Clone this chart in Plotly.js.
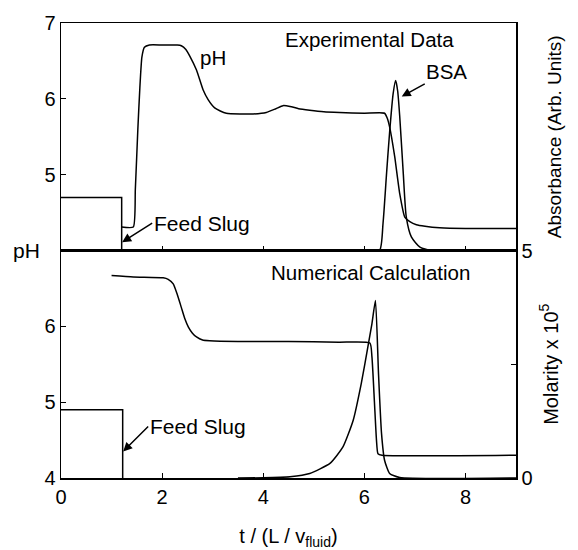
<!DOCTYPE html>
<html>
<head>
<meta charset="utf-8">
<script src="https://cdn.plot.ly/plotly-3.0.1.min.js"></script>
<style>html,body{margin:0;padding:0;background:#fff;}#chart{width:578px;height:550px;}</style>
</head>
<body>
<div id="chart"></div>
<script>
// Feed slug (top panel, experimental)
const slugTopX = [0, 1.2, 1.2];
const slugTopY = [4.7, 4.7, 4.0];
// Experimental pH
const phExpX = [1.2, 1.43, 1.47, 1.52, 1.56, 1.60, 1.65, 1.75, 2.0, 2.3, 2.38, 2.47, 2.55, 2.68, 2.81, 2.91, 3.04, 3.15, 3.27, 3.54, 3.8, 4.06, 4.25, 4.39, 4.53, 4.7, 4.92, 5.2, 5.51, 6.0, 6.40, 6.45, 6.50, 6.60, 6.70, 6.80, 6.90, 7.03, 7.2, 7.49, 8.0, 9.0];
const phExpY = [4.31, 4.31, 4.8, 5.6, 6.15, 6.55, 6.68, 6.71, 6.71, 6.71, 6.70, 6.65, 6.56, 6.38, 6.12, 5.99, 5.88, 5.84, 5.81, 5.80, 5.80, 5.82, 5.87, 5.91, 5.90, 5.87, 5.85, 5.83, 5.82, 5.81, 5.81, 5.75, 5.63, 5.24, 4.75, 4.44, 4.38, 4.34, 4.32, 4.30, 4.29, 4.29];
// Experimental BSA absorbance (arb. units)
const bsaExpX = [6.0, 6.30, 6.37, 6.44, 6.50, 6.57, 6.62, 6.66, 6.70, 6.77, 6.83, 6.93, 7.10, 7.35, 9.0];
const bsaExpY = [0, 0, 0.12, 0.34, 0.52, 0.69, 0.747, 0.70, 0.59, 0.34, 0.147, 0.06, 0.015, 0, 0];
// Feed slug (bottom panel, numerical)
const slugBotX = [0, 1.22, 1.22];
const slugBotY = [4.9, 4.9, 4.0];
// Numerical pH
const phNumX = [1.0, 1.43, 2.02, 2.12, 2.22, 2.30, 2.38, 2.45, 2.52, 2.60, 2.68, 2.80, 2.94, 3.5, 4.5, 5.5, 6.11, 6.15, 6.20, 6.24, 6.27, 6.35, 9.0];
const phNumY = [6.67, 6.65, 6.64, 6.62, 6.56, 6.42, 6.25, 6.10, 5.99, 5.91, 5.86, 5.82, 5.81, 5.80, 5.80, 5.79, 5.78, 5.60, 5.00, 4.50, 4.32, 4.30, 4.30];
// Numerical BSA molarity x 1e5
const bsaNumX = [3.5, 4.0, 4.53, 4.92, 5.32, 5.58, 5.78, 5.94, 6.07, 6.15, 6.22, 6.28, 6.34, 6.40, 6.50, 6.70, 9.0];
const bsaNumY = [0, 0.005, 0.03, 0.10, 0.32, 0.69, 1.27, 2.08, 2.88, 3.39, 3.90, 2.30, 0.98, 0.39, 0.10, 0.01, 0];

const xTicks = [0, 2, 4, 6, 8];

const ln = {color: '#000', width: 1.5};
const traces = [
  {x: slugTopX, y: slugTopY, xaxis: 'x2', yaxis: 'y2', mode: 'lines', line: ln},
  {x: phExpX, y: phExpY, xaxis: 'x2', yaxis: 'y2', mode: 'lines', line: Object.assign({shape: 'spline', smoothing: 0.5}, ln)},
  {x: bsaExpX, y: bsaExpY, xaxis: 'x2', yaxis: 'y4', mode: 'lines', line: Object.assign({shape: 'spline', smoothing: 0.6}, ln)},
  {x: slugBotX, y: slugBotY, xaxis: 'x', yaxis: 'y', mode: 'lines', line: ln},
  {x: phNumX, y: phNumY, xaxis: 'x', yaxis: 'y', mode: 'lines', line: Object.assign({shape: 'spline', smoothing: 0.5}, ln)},
  {x: bsaNumX, y: bsaNumY, xaxis: 'x', yaxis: 'y3', mode: 'lines', line: Object.assign({shape: 'spline', smoothing: 0.5}, ln)}
];

const F = 'Liberation Sans, Arial, Helvetica, sans-serif';
const axBase = {showline: true, linecolor: '#000', linewidth: 1.5, ticks: 'inside', ticklen: 5, tickwidth: 1.2, tickcolor: '#000', showgrid: false, zeroline: false, automargin: false, tickfont: {family: F, size: 20, color: '#000'}};
const arr = {showarrow: true, arrowhead: 2, arrowsize: 1.2, arrowwidth: 1.5, arrowcolor: '#000'};

const layout = {
  width: 578, height: 550,
  margin: {l: 61, r: 62, t: 23, b: 72},
  paper_bgcolor: '#fff', plot_bgcolor: '#fff',
  showlegend: false,
  font: {family: F, color: '#000'},
  xaxis: Object.assign({}, axBase, {domain: [0, 1], anchor: 'y', range: [0, 9], tickvals: xTicks, mirror: true,
    title: {text: 't / (L / v<sub>fluid</sub>)', font: {family: F, size: 20, color: '#000'}, standoff: 22}}),
  xaxis2: Object.assign({}, axBase, {domain: [0, 1], anchor: 'y2', range: [0, 9], tickvals: xTicks, showticklabels: false, mirror: true}),
  yaxis: Object.assign({}, axBase, {domain: [0, 0.5], anchor: 'x', range: [4, 7], tickvals: [4, 5, 6], mirror: true}),
  yaxis2: Object.assign({}, axBase, {domain: [0.5, 1], anchor: 'x2', range: [4, 7], tickvals: [5, 6, 7], mirror: true}),
  yaxis3: Object.assign({}, axBase, {overlaying: 'y', side: 'right', anchor: 'x', range: [0, 5], tickmode: 'linear', tick0: 0, dtick: 5,
    minor: {dtick: 2.5, tick0: 0, ticks: 'inside', ticklen: 5, tickwidth: 1.2, tickcolor: '#000', showgrid: false},
    title: {text: 'Molarity x 10<sup>5</sup>', font: {family: F, size: 20, color: '#000'}, standoff: 12}}),
  yaxis4: Object.assign({}, axBase, {overlaying: 'y2', side: 'right', anchor: 'x2', range: [0, 1], ticks: '', showticklabels: false,
    title: {text: 'Absorbance (Arb. Units)', font: {family: F, size: 19, color: '#000'}, standoff: 31}}),
  annotations: [
    {xref: 'x2', yref: 'y2', x: 3.01, y: 6.55, text: 'pH', showarrow: false, font: {size: 20.5}},
    {xref: 'x2', yref: 'y2', x: 6.11, y: 6.78, text: 'Experimental Data', showarrow: false, font: {size: 20.5}},
    Object.assign({xref: 'x2', yref: 'y2', x: 6.74, y: 6.03, ax: 45, ay: -25, text: 'BSA', font: {size: 20.5}}, arr),
    Object.assign({xref: 'x2', yref: 'y2', x: 1.21, y: 4.11, ax: 30, ay: -19, xanchor: 'left', yanchor: 'middle', text: 'Feed Slug', font: {size: 21}}, arr),
    {xref: 'x', yref: 'y', x: 6.13, y: 6.71, text: 'Numerical Calculation', showarrow: false, font: {size: 20.5}},
    Object.assign({xref: 'x', yref: 'y', x: 1.23, y: 4.35, ax: 25, ay: -25, xanchor: 'left', yanchor: 'middle', text: 'Feed Slug', font: {size: 21}}, arr),
    {xref: 'paper', yref: 'paper', x: -0.075, y: 0.501, xanchor: 'center', yanchor: 'middle', text: 'pH', showarrow: false, font: {size: 21}}
  ]
};

Plotly.newPlot('chart', traces, layout, {staticPlot: true, displayModeBar: false});
</script>
</body>
</html>
